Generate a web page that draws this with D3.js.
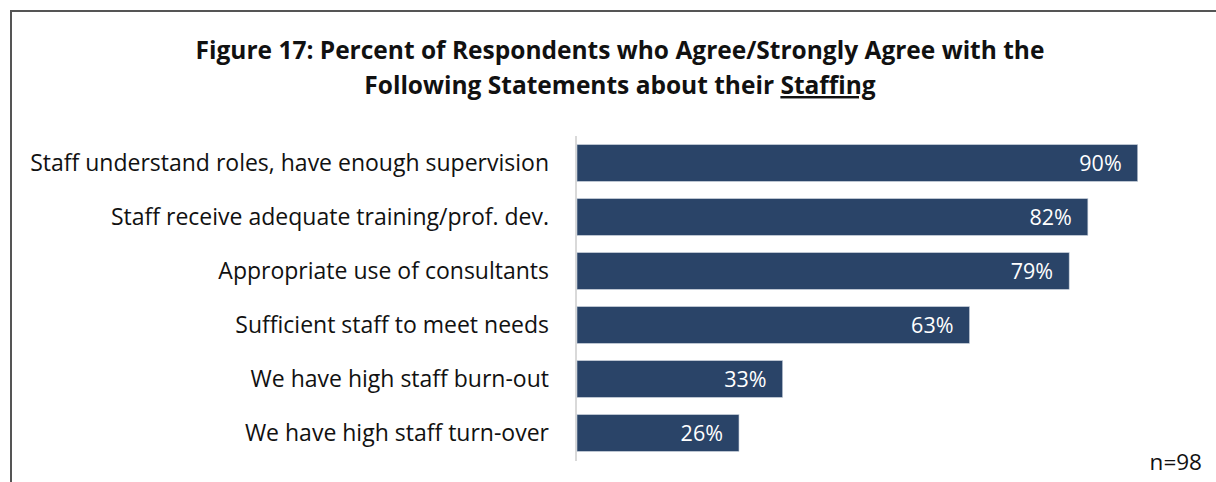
<!DOCTYPE html>
<html>
  <head>
    <meta charset="utf-8" />
    <title>Figure 17</title>
    <script src="https://cdn.jsdelivr.net/npm/d3@7"></script>
    <style>
      html, body { margin: 0; padding: 0; background: #fff; }
      svg { display: block; font-family: "Open Sans", Lato, sans-serif; }
      .cat { font-size: 23px; fill: #111; }
      .val { font-size: 21.5px; fill: #fff; }
      .title { font-size: 24.5px; font-weight: bold; fill: #111; }
    </style>
  </head>
  <body>
    <svg id="chart" width="1216" height="482"></svg>
    <script>
    var categories = [
      'Staff understand roles, have enough supervision',
      'Staff receive adequate training/prof. dev.',
      'Appropriate use of consultants',
      'Sufficient staff to meet needs',
      'We have high staff burn-out',
      'We have high staff turn-over'
    ];
    var values = [90, 82, 79, 63, 33, 26];
    var titleLines = [
      'Figure 17: Percent of Respondents who Agree/Strongly Agree with the',
      'Following Statements about their '
    ];
    var titleUnderlined = 'Staffing';
    var note = 'n=98';

    var svg = d3.select('#chart');

    // frame (only top and left edges are visible in the crop)
    svg.append('path')
       .attr('d', 'M11,482 L11,11 L1216,11')
       .attr('fill', 'none')
       .attr('stroke', '#555')
       .attr('stroke-width', 2);

    var t = svg.append('text').attr('class', 'title').attr('text-anchor', 'middle');
    t.append('tspan').attr('x', 620).attr('y', 59).text(titleLines[0]);
    var l2 = t.append('tspan').attr('x', 620).attr('y', 94);
    l2.append('tspan').text(titleLines[1]);
    l2.append('tspan').attr('text-decoration', 'underline').text(titleUnderlined);

    var x = d3.scaleLinear().domain([0, 100]).range([577, 1200]);
    var y = d3.scaleBand().domain(categories).range([136, 460]).paddingInner(0.32).paddingOuter(0.16);

    svg.append('line')
       .attr('x1', 576).attr('x2', 576)
       .attr('y1', 136).attr('y2', 461)
       .attr('stroke', '#d9d9d9')
       .attr('stroke-width', 2);

    svg.selectAll('.bar')
       .data(values)
       .enter()
       .append('rect')
       .attr('class', 'bar')
       .attr('x', x(0))
       .attr('y', function(d, i) { return y(categories[i]); })
       .attr('width', function(d) { return x(d) - x(0); })
       .attr('height', y.bandwidth())
       .attr('fill', '#2a4468')
       .attr('stroke', '#c3ccd8')
       .attr('stroke-width', 0.6);

    svg.selectAll('.val')
       .data(values)
       .enter()
       .append('text')
       .attr('class', 'val')
       .attr('text-anchor', 'end')
       .attr('x', function(d) { return x(d) - 16; })
       .attr('y', function(d, i) { return y(categories[i]) + y.bandwidth() / 2; })
       .attr('dy', '0.37em')
       .text(function(d) { return d + '%'; });

    svg.selectAll('.cat')
       .data(categories)
       .enter()
       .append('text')
       .attr('class', 'cat')
       .attr('text-anchor', 'end')
       .attr('x', 549)
       .attr('y', function(d) { return y(d) + y.bandwidth() / 2; })
       .attr('dy', '0.33em')
       .text(function(d) { return d; });

    svg.append('text')
       .attr('x', 1202)
       .attr('y', 470)
       .attr('text-anchor', 'end')
       .style('font-size', '22.5px')
       .style('fill', '#111')
       .text(note);
    </script>
  </body>
</html>
